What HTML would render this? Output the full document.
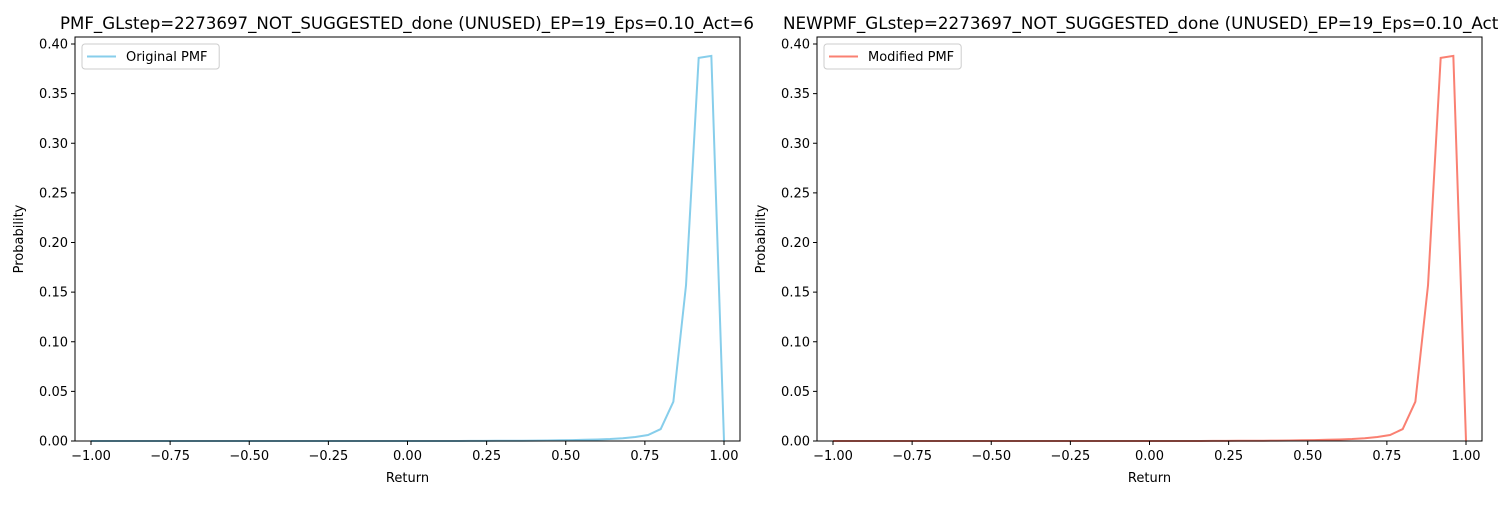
<!DOCTYPE html>
<html><head><meta charset="utf-8"><style>
body{margin:0;background:#fff;font-family:"Liberation Sans","DejaVu Sans",sans-serif}
svg text{font-family:"DejaVu Sans","Liberation Sans",sans-serif}
</style></head><body>
<svg id="c" width="1500" height="500" xmlns="http://www.w3.org/2000/svg"></svg>
<script>
const xValues = [];
for (let i = 0; i <= 50; i++) xValues.push(-1 + i * 0.04);
const originalPmf = [0,0,0,0,0,0,0,0,0,0,0,0,0,0,0,0,0,0,0,0,0,0,0,0,0,0,0,0,0,0,0.0001,0.0001,0.0002,0.0002,0.0003,0.0004,0.0005,0.0007,0.0009,0.0012,0.0015,0.002,0.0028,0.004,0.006,0.012,0.0396,0.157,0.386,0.388,0];
const modifiedPmf = [0,0,0,0,0,0,0,0,0,0,0,0,0,0,0,0,0,0,0,0,0,0,0,0,0,0,0,0,0,0,0.0001,0.0001,0.0002,0.0002,0.0003,0.0004,0.0005,0.0007,0.0009,0.0012,0.0015,0.002,0.0028,0.004,0.006,0.012,0.0396,0.157,0.386,0.388,0];
const xTicks = [-1,-0.75,-0.5,-0.25,0,0.25,0.5,0.75,1];
const xTickLabels = ["−1.00","−0.75","−0.50","−0.25","0.00","0.25","0.50","0.75","1.00"];
const yTicks = [0,0.05,0.1,0.15,0.2,0.25,0.3,0.35,0.4];
const yTickLabels = ["0.00","0.05","0.10","0.15","0.20","0.25","0.30","0.35","0.40"];

const NS = "http://www.w3.org/2000/svg";
const svg = document.getElementById('c');
function mk(tag, attrs, parent){const e=document.createElementNS(NS,tag);for(const k in attrs)e.setAttribute(k,attrs[k]);(parent||svg).appendChild(e);return e;}

function panel(left, title, series, color, legendLabel, prefix){
  const L=left, R=left+665, T=37, B=441;
  const sx=v=>L+16+(v+1)/2*633;
  const sy=v=>B-v*992.5;
  const g=mk('g',{});
  
  
  const t=mk('text',{x:prefix==='original'?60:783,y:29,'text-anchor':'start','font-size':'16.5',fill:'#000'},g);
  if(prefix==='original'){t.setAttribute('textLength',694);t.setAttribute('lengthAdjust','spacingAndGlyphs');}
  else{t.setAttribute('textLength',740);t.setAttribute('lengthAdjust','spacingAndGlyphs');}
  t.textContent=title;
  
  
  const pts=xValues.map((x,i)=>sx(x).toFixed(2)+','+sy(series[i]).toFixed(2)).join(' ');
  const line=mk('polyline',{points:pts,fill:'none',stroke:color,'stroke-width':2,'stroke-linejoin':'miter'},g);
  
  
  const box=mk('rect',{x:L,y:T,width:R-L,height:B-T,fill:'none',stroke:'#000','stroke-width':1},g);
  
  
  xTicks.forEach((v,i)=>{
    const x=sx(v);
    mk('line',{x1:x,x2:x,y1:B,y2:B+4,stroke:'#000'},g);
    const tx=mk('text',{x:x,y:B+19,'text-anchor':'middle','font-size':'13'},g);
    tx.textContent=xTickLabels[i];
    
    
  });
  yTicks.forEach((v,i)=>{
    const y=sy(v);
    mk('line',{x1:L,x2:L-4,y1:y,y2:y,stroke:'#000'},g);
    const ty=mk('text',{x:L-7,y:y+4.5,'text-anchor':'end','font-size':'13'},g);
    ty.textContent=yTickLabels[i];
    
    
  });
  const xl=mk('text',{x:(L+R)/2,y:482,'text-anchor':'middle','font-size':'13'},g);
  xl.textContent='Return';
  
  
  const yl=mk('text',{x:0,y:0,'text-anchor':'middle','font-size':'13',transform:`translate(${L-52},${(T+B)/2}) rotate(-90)`},g);
  yl.textContent='Probability';
  
  
  const lg=mk('g',{},g);
  
  
  const w = legendLabel.length*7.1+52;
  mk('rect',{x:L+7,y:T+7,width:w,height:25,rx:3,fill:'#fff',stroke:'#ccc'},lg);
  mk('line',{x1:L+12,x2:L+41,y1:T+19.5,y2:T+19.5,stroke:color,'stroke-width':2},lg);
  const lt=mk('text',{x:L+51,y:T+24,'font-size':'13'},lg);
  lt.textContent=legendLabel;
}
panel(75,'PMF_GLstep=2273697_NOT_SUGGESTED_done (UNUSED)_EP=19_Eps=0.10_Act=6',originalPmf,'#87ceeb','Original PMF','original');
panel(817,'NEWPMF_GLstep=2273697_NOT_SUGGESTED_done (UNUSED)_EP=19_Eps=0.10_Act=6',modifiedPmf,'#fa8072','Modified PMF','modified');
</script>
</body></html>
